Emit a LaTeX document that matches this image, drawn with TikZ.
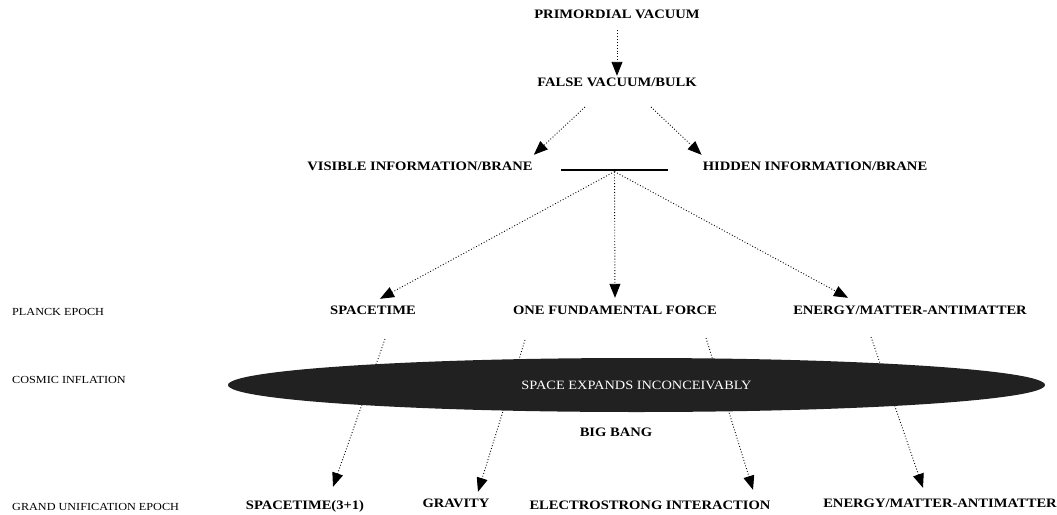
\documentclass[tikz,border=0pt]{standalone}
\usepackage{fontspec}
\setmainfont[FakeStretch=1.13]{Liberation Serif}
\usepackage{tikz}
\usetikzlibrary{arrows.meta, shapes.geometric}
\tikzset{
    ->, % every connector is directed
    >={Triangle[length=14pt, width=11pt]}, % large filled heads
    x=1pt, y=-1pt, % one unit is one pixel of the picture, y counts downward
    every node/.style={inner sep=1pt, text height=9pt, text depth=1pt},
}

\begin{document}
\begin{tikzpicture}[
                        styleStage/.style={font=\fontsize{12.9}{14}\selectfont\bfseries},
                        styleEpoch/.style={font=\fontsize{10.8}{12}\selectfont, anchor=west},
                        styleDots/.style={line width=0.9pt, dash pattern=on 0.9pt off 2pt},
                    ]
                    \useasboundingbox (0,0) rectangle (1057,514);
                    % epochs on the left
                    \node[styleEpoch] (planck) at (11,311) {PLANCK EPOCH};
                    \node[styleEpoch] (cosmic) at (11,379) {COSMIC INFLATION};
                    \node[styleEpoch] (grand) at (11,506) {GRAND UNIFICATION EPOCH};
                    % upper stages
                    \node[styleStage] (pv) at (617,14) {PRIMORDIAL VACUUM};
                    \node[styleStage] (fv) at (617,82) {FALSE VACUUM/BULK};
                    \node[styleStage] (vis) at (420,166) {VISIBLE INFORMATION/BRANE};
                    \node[styleStage] (hid) at (815,166) {HIDDEN INFORMATION/BRANE};
                    \node[fill=black, minimum width=107pt, minimum height=2.8pt,
                          inner sep=0pt, text height=0pt, text depth=0pt] (brane) at (614.5,170) {};
                    % planck epoch
                    \node[styleStage] (st) at (373,310) {SPACETIME};
                    \node[styleStage] (off) at (615,310) {ONE FUNDAMENTAL FORCE};
                    \node[styleStage] (ema) at (910,310) {ENERGY/MATTER-ANTIMATTER};
                    % grand unification epoch
                    \node[styleStage] (st31) at (305,505) {SPACETIME(3+1)};
                    \node[styleStage] (grav) at (456,503) {GRAVITY};
                    \node[styleStage] (ewi) at (650,505) {ELECTROSTRONG INTERACTION};
                    \node[styleStage] (ema2) at (940,503) {ENERGY/MATTER-ANTIMATTER};
                    \node[styleStage] (bb) at (616,432) {BIG BANG};
                    % free starting points
                    \coordinate (fvL) at (585,107);
                    \coordinate (fvR) at (651,107);
                    \coordinate (stD) at (385,339);
                    \coordinate (offL) at (525,340);
                    \coordinate (offR) at (706,338);
                    \coordinate (emaD) at (871,337);

                    \path[styleDots]
                    (pv) edge[shorten <=10pt] (fv)
                    (fvL) edge ([yshift=5pt]vis.north east)
                    (fvR) edge ([yshift=5pt]hid.north west)

                    (brane.south) edge ([xshift=7pt, yshift=5pt]st.north)
                    (brane.south) edge ([yshift=6pt]off.north)
                    (brane.south) edge ([xshift=-62pt, yshift=6pt]ema.north)

                    (stD) edge ([xshift=28pt, yshift=12pt]st31.north)
                    (offL) edge ([xshift=22pt, yshift=5pt]grav.north)
                    (offR) edge ([xshift=103pt, yshift=9pt]ewi.north)
                    (emaD) edge ([xshift=-17pt, yshift=9pt]ema2.north);

                    % inflation covers the dotted lines
                    \node[ellipse, fill=black!87, text=white, minimum width=817pt, minimum height=54pt,
                          font=\fontsize{12.7}{14}\selectfont] (infl) at (636.5,385) {SPACE EXPANDS INCONCEIVABLY};
                \end{tikzpicture}
\end{document}
